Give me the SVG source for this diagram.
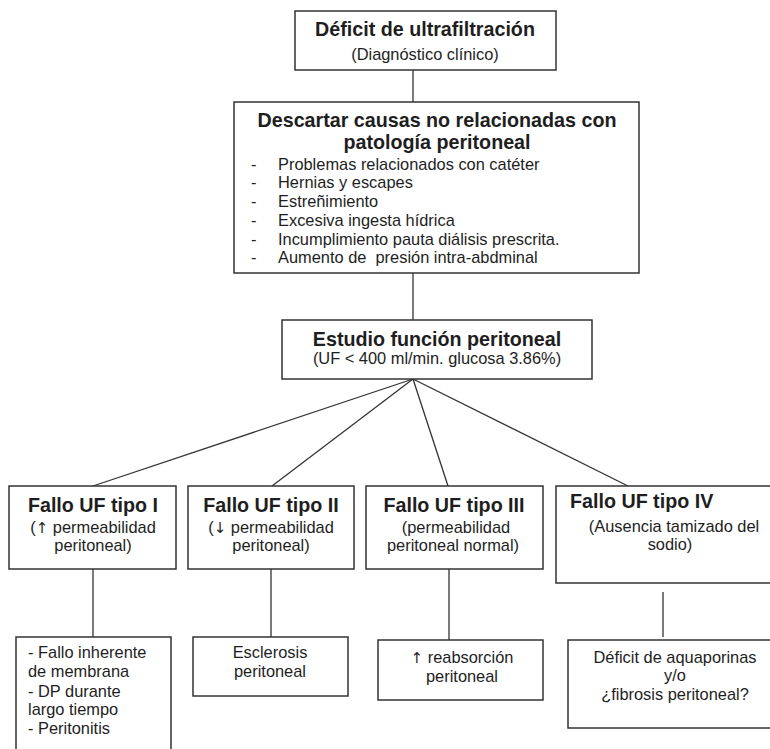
<svg xmlns="http://www.w3.org/2000/svg" width="770" height="749" viewBox="0 0 770 749">
<style>
.box{fill:#fff;stroke:#333;stroke-width:1.5}
.ln{stroke:#333;stroke-width:1.3;fill:none}
text{font-family:"Liberation Sans",Arial,sans-serif;fill:#1e1e1e}
.b{font-weight:bold;font-size:19.7px}
.r{font-size:16.4px}
.m{text-anchor:middle}
.ar{font-family:"DejaVu Sans",sans-serif;font-size:15px}
</style>
<rect width="770" height="749" fill="#fff"/>
<g id="connectors">
<line class="ln" x1="413" y1="70" x2="413" y2="102"/>
<line class="ln" x1="413" y1="273" x2="413" y2="320"/>
<line class="ln" x1="413" y1="379" x2="93" y2="486"/>
<line class="ln" x1="413" y1="379" x2="272" y2="486"/>
<line class="ln" x1="413" y1="379" x2="448" y2="486"/>
<line class="ln" x1="413" y1="379" x2="628" y2="486"/>
<line class="ln" x1="93" y1="569" x2="93" y2="637"/>
<line class="ln" x1="271" y1="569" x2="271" y2="637"/>
<line class="ln" x1="449" y1="569" x2="449" y2="640"/>
<line class="ln" x1="663" y1="592" x2="663" y2="637"/>
</g>
<g id="n1">
<rect class="box" x="295" y="11" width="261" height="59"/>
<text class="b m" x="425" y="36">Déficit de ultrafiltración</text>
<text class="r m" x="425" y="60">(Diagnóstico clínico)</text>
</g>
<g id="n2">
<rect class="box" x="234" y="102" width="405" height="171"/>
<text class="b m" x="437" y="127">Descartar causas no relacionadas con</text>
<text class="b m" x="437" y="149">patología peritoneal</text>
<g class="r">
<text x="251" y="170">-</text><text x="278" y="170">Problemas relacionados con catéter</text>
<text x="251" y="188">-</text><text x="278" y="188">Hernias y escapes</text>
<text x="251" y="207">-</text><text x="278" y="207">Estreñimiento</text>
<text x="251" y="226">-</text><text x="278" y="226">Excesiva ingesta hídrica</text>
<text x="251" y="245">-</text><text x="278" y="245">Incumplimiento pauta diálisis prescrita.</text>
<text x="251" y="263">-</text><text x="278" y="263" xml:space="preserve">Aumento de  presión intra-abdminal</text>
</g>
</g>
<g id="n3">
<rect class="box" x="282" y="320" width="310" height="59"/>
<text class="b m" x="437" y="346">Estudio función peritoneal</text>
<text class="r m" x="437" y="364">(UF &lt; 400 ml/min. glucosa 3.86%)</text>
</g>
<g id="t1">
<rect class="box" x="9" y="486" width="167" height="83"/>
<text class="b m" x="93" y="512">Fallo UF tipo I</text>
<text class="r m" x="93" y="533">(<tspan class="ar">↑</tspan> permeabilidad</text>
<text class="r m" x="93" y="551">peritoneal)</text>
</g>
<g id="t2">
<rect class="box" x="188" y="486" width="166" height="83"/>
<text class="b m" x="271" y="512">Fallo UF tipo II</text>
<text class="r m" x="271" y="533">(<tspan class="ar">↓</tspan> permeabilidad</text>
<text class="r m" x="271" y="551">peritoneal)</text>
</g>
<g id="t3">
<rect class="box" x="366" y="486" width="177" height="83"/>
<text class="b m" x="454" y="512">Fallo UF tipo III</text>
<text class="r m" x="456" y="533">(permeabilidad</text>
<text class="r m" x="453" y="551">peritoneal normal)</text>
</g>
<g id="t4">
<rect class="box" x="556" y="486" width="240" height="97"/>
<text class="b" x="570" y="508">Fallo UF tipo IV</text>
<text class="r m" x="674" y="532">(Ausencia tamizado del</text>
<text class="r m" x="670" y="550">sodio)</text>
</g>
<g id="c1">
<rect class="box" x="16" y="637" width="155" height="130"/>
<g class="r">
<text x="28" y="658">- Fallo inherente</text>
<text x="28" y="677">de membrana</text>
<text x="28" y="697">- DP durante</text>
<text x="28" y="715">largo tiempo</text>
<text x="28" y="734">- Peritonitis</text>
</g>
</g>
<g id="c2">
<rect class="box" x="193" y="637" width="155" height="59"/>
<text class="r m" x="270" y="658">Esclerosis</text>
<text class="r m" x="270" y="677">peritoneal</text>
</g>
<g id="c3">
<rect class="box" x="378" y="640" width="165" height="60"/>
<text class="r m" x="462" y="663"><tspan class="ar">↑</tspan> reabsorción</text>
<text class="r m" x="462" y="682">peritoneal</text>
</g>
<g id="c4">
<rect class="box" x="568" y="640" width="230" height="88"/>
<text class="r m" x="675" y="663">Déficit de aquaporinas</text>
<text class="r m" x="675" y="681">y/o</text>
<text class="r m" x="675" y="700">¿fibrosis peritoneal?</text>
</g>
</svg>
